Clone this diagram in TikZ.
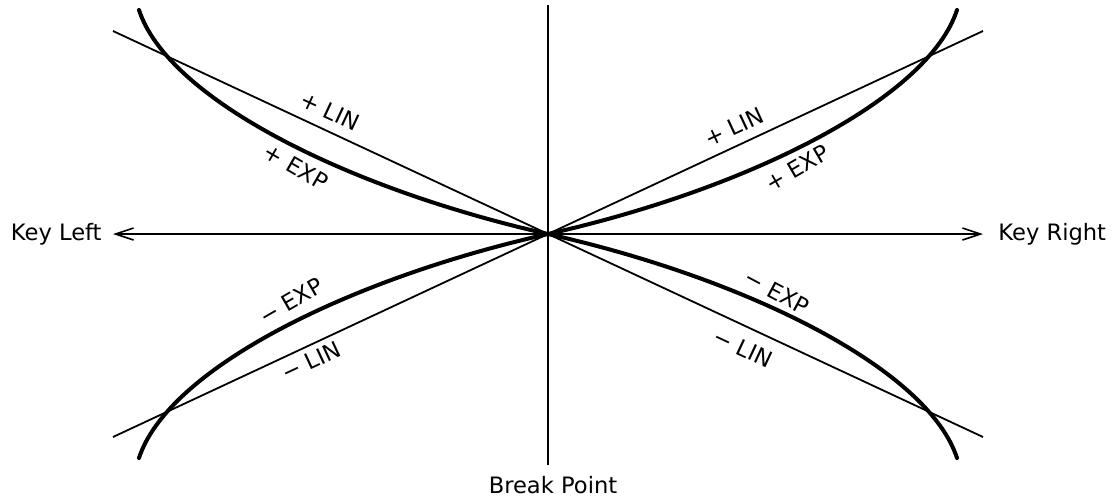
\documentclass[tikz,border=0pt]{standalone}
\usepackage{fontspec}
\setmainfont{DejaVu Sans}
\usetikzlibrary{arrows.meta,positioning}

\begin{document}
\begin{tikzpicture}[x=0.5pt,y=0.5pt,>={Straight Barb[length=9pt,width=6pt]},
  font=\fontsize{11.3}{13.5}\selectfont,
  axis/.style={line width=0.8pt},
  linline/.style={line width=0.9pt},
  expcurve/.style={line width=2pt,line cap=round},
  axislabel/.style={inner sep=0pt},
  curvelabel/.style={inner sep=1pt}]
\useasboundingbox (-548,-265) rectangle (565,234);
% axes through the break point
\coordinate (O) at (0,0);
\coordinate (kl) at (-435,0);
\coordinate (kr) at (435,0);
\coordinate (top) at (0,229);
\coordinate (bp) at (0,-231);
\draw[axis,<->] (kl) -- (kr);
\draw[axis] (top) -- (bp);
\node[axislabel,left=5.5pt of kl] (keyleft) {Key Left};
\node[axislabel,right=7.5pt of kr] (keyright) {Key Right};
\node[axislabel,below=5.5pt of bp,xshift=2.5pt] (breakpt) {Break Point};
% linear curves
\coordinate (linUL) at (-435,203);
\coordinate (linLR) at (435,-203);
\coordinate (linUR) at (435,203);
\coordinate (linLL) at (-435,-203);
\draw[linline] (linUL) -- (linLR);
\draw[linline] (linUR) -- (linLL);
% exponential curves, one per quadrant
\foreach \sx/\sy in {1/1,-1/1,1/-1,-1/-1}
  \draw[expcurve,xscale=\sx,yscale=\sy] (0,0) .. controls (200,45) and (380,135) .. (409,224);
% labels
\node[curvelabel,rotate=-25] (plinL) at (-218,123) {+ LIN};
\node[curvelabel,rotate=-30] (pexpL) at (-252,67) {+ EXP};
\node[curvelabel,rotate=25] (plinR) at (186,107) {+ LIN};
\node[curvelabel,rotate=30] (pexpR) at (249,66) {+ EXP};
\node[curvelabel,rotate=30] (mexpL) at (-257,-67) {− EXP};
\node[curvelabel,rotate=25] (mlinL) at (-237,-127) {− LIN};
\node[curvelabel,rotate=-28] (mexpR) at (229,-58) {− EXP};
\node[curvelabel,rotate=-25] (mlinR) at (195,-114) {− LIN};
\end{tikzpicture}
\end{document}
